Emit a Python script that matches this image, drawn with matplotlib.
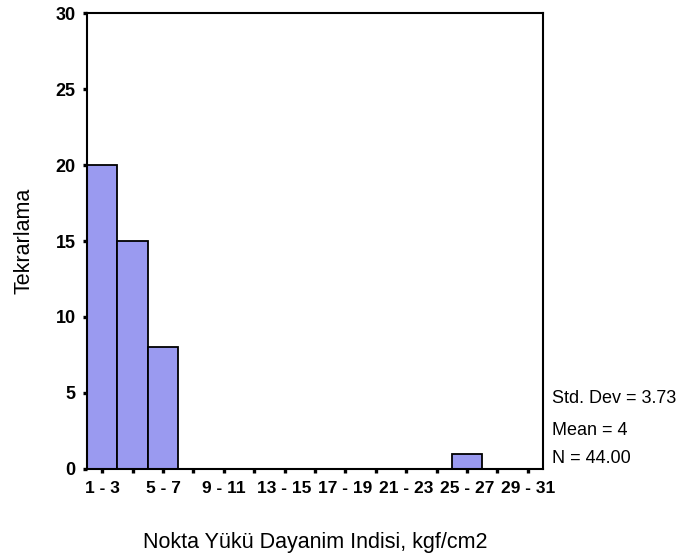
import matplotlib
matplotlib.use("Agg")
import matplotlib.pyplot as plt
import numpy as np

plt.rcParams['font.family'] = ['Liberation Sans', 'DejaVu Sans']

bins = ["1 - 3", "3 - 5", "5 - 7", "7 - 9", "9 - 11", "11 - 13", "13 - 15", "15 - 17",
        "17 - 19", "19 - 21", "21 - 23", "23 - 25", "25 - 27", "27 - 29", "29 - 31"]
counts = [20, 15, 8, 0, 0, 0, 0, 0, 0, 0, 0, 0, 1, 0, 0]
stats = ["Std. Dev = 3.73", "Mean = 4", "N = 44.00"]
yticks = [0, 5, 10, 15, 20, 25, 30]

fig = plt.figure(figsize=(6.79, 5.58), dpi=100)
ax = fig.add_axes([0.1281, 0.1595, 0.6716, 0.8172])

x = np.arange(len(bins))
ax.bar(x, counts, width=1.0, color='#9a9af0', edgecolor='black', linewidth=1.3)

ax.set_xlim(-0.5, len(bins) - 0.5)
ax.set_ylim(0, 30)
ax.set_xticks(x)
ax.set_xticklabels([b if i % 2 == 0 else "" for i, b in enumerate(bins)],
                   fontsize=12.5, fontweight='bold')
ax.set_yticks(yticks)
ax.set_yticklabels([str(v) for v in yticks], fontsize=13, fontweight='bold')
ax.tick_params(axis='x', direction='out', length=3, width=2.4, pad=6)
ax.tick_params(axis='y', direction='out', length=3, width=2.4, pad=5)
for s in ax.spines.values():
    s.set_linewidth(1.5)

ax.set_xlabel("Nokta Yükü Dayanim Indisi, kgf/cm2", fontsize=15.5)
ax.set_ylabel("Tekrarlama", fontsize=15.5)
ax.xaxis.set_label_coords(0.5, -0.139)
ax.yaxis.set_label_coords(-0.114, 0.5)

for txt, yy in zip(stats, [0.1557, 0.0855, 0.024]):
    ax.text(1.0197, yy, txt, transform=ax.transAxes, fontsize=13,
            ha='left', va='center')

fig.savefig("out.png", dpi=100)
